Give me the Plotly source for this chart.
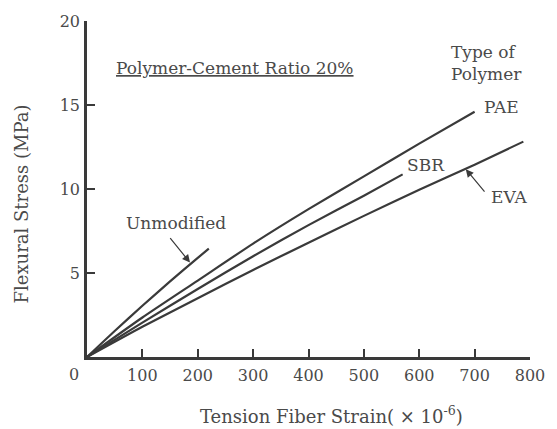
import plotly.graph_objects as go

# ---- data ----
unmod_strain = [0, 50, 100, 150, 200, 220]
unmod_stress = [0, 1.55, 3.05, 4.5, 5.9, 6.45]

pae_strain = [0, 100, 200, 300, 400, 500, 600, 700]
pae_stress = [0, 2.35, 4.55, 6.75, 8.8, 10.75, 12.7, 14.6]

sbr_strain = [0, 100, 200, 300, 400, 500, 570]
sbr_stress = [0, 2.05, 4.05, 6.0, 7.85, 9.6, 10.87]

eva_strain = [0, 100, 200, 300, 400, 500, 600, 700, 788]
eva_stress = [0, 1.8, 3.5, 5.18, 6.8, 8.4, 9.95, 11.45, 12.82]

x_ticks = [100, 200, 300, 400, 500, 600, 700, 800]
y_ticks = [5, 10, 15, 20]

LINE = "#3a3a3a"
TEXT = "#4a4a4a"
FONT = "DejaVu Serif"

fig = go.Figure()
for xs, ys in [(unmod_strain, unmod_stress), (pae_strain, pae_stress),
               (sbr_strain, sbr_stress), (eva_strain, eva_stress)]:
    fig.add_trace(go.Scatter(x=xs, y=ys, mode="lines",
                             line=dict(color=LINE, width=2.2, shape="spline", smoothing=0.6),
                             showlegend=False, hoverinfo="skip"))

fig.update_layout(
    width=557, height=429,
    margin=dict(l=87, r=20, t=17, b=72),
    paper_bgcolor="white", plot_bgcolor="white",
    font=dict(family=FONT, size=16, color=TEXT),
    showlegend=False,
)
fig.update_xaxes(range=[0, 800], tickvals=x_ticks, ticktext=[str(v) for v in x_ticks],
                 ticks="inside", ticklen=8, tickwidth=2, tickcolor=LINE,
                 showline=True, linecolor=LINE, linewidth=2.5, showgrid=False, zeroline=False,
                 tickfont=dict(family=FONT, size=16, color=TEXT), ticklabelstandoff=2)
fig.update_yaxes(range=[0, 20], tickvals=y_ticks, ticktext=[str(v) for v in y_ticks],
                 ticks="inside", ticklen=8, tickwidth=2, tickcolor=LINE,
                 showline=True, linecolor=LINE, linewidth=2.5, showgrid=False, zeroline=False,
                 tickfont=dict(family=FONT, size=16, color=TEXT), ticklabelstandoff=1)

ann = []
# shared origin label
ann.append(dict(x=-0.029, y=-0.051, xref="paper", yref="paper", text="0", showarrow=False,
                xanchor="center", yanchor="middle",
                font=dict(size=16, color=TEXT, family=FONT)))
ann.append(dict(x=268, y=17.2, xref="x", yref="y", text="Polymer-Cement Ratio 20%",
                showarrow=False, font=dict(size=17, color=TEXT, family=FONT, lineposition="under")))
ann.append(dict(x=654, y=17.53, xref="x", yref="y", text="Type of<br>Polymer",
                showarrow=False, xanchor="left", align="left",
                font=dict(size=17, color=TEXT, family=FONT)))
ann.append(dict(x=748, y=14.89, xref="x", yref="y", text="PAE", showarrow=False,
                font=dict(size=17, color=TEXT, family=FONT)))
ann.append(dict(x=613, y=11.42, xref="x", yref="y", text="SBR", showarrow=False,
                font=dict(size=17, color=TEXT, family=FONT)))
ann.append(dict(x=763, y=9.54, xref="x", yref="y", text="EVA", showarrow=False,
                font=dict(size=17, color=TEXT, family=FONT)))
ann.append(dict(x=160, y=7.96, xref="x", yref="y", text="Unmodified", showarrow=False,
                font=dict(size=17, color=TEXT, family=FONT)))
# arrows
ann.append(dict(x=684, y=11.18, xref="x", yref="y", text="", showarrow=True,
                ax=20, ay=24, arrowhead=2, arrowsize=1.3, arrowwidth=1.2, arrowcolor=LINE))
ann.append(dict(x=186, y=5.62, xref="x", yref="y", text="", showarrow=True,
                ax=-21, ay=-26, arrowhead=2, arrowsize=1.3, arrowwidth=1.2, arrowcolor=LINE))
# axis titles
ann.append(dict(x=0.553, y=-0.172, xref="paper", yref="paper", text="Tension Fiber Strain( × 10<sup>-6</sup>)",
                showarrow=False, yanchor="middle", font=dict(size=18, color=TEXT, family=FONT)))
ann.append(dict(x=-0.149, y=0.457, xref="paper", yref="paper", text="Flexural Stress (MPa)",
                showarrow=False, textangle=-90, xanchor="center", yanchor="middle",
                font=dict(size=18, color=TEXT, family=FONT)))
fig.update_layout(annotations=ann)

fig.write_html("out.html")
